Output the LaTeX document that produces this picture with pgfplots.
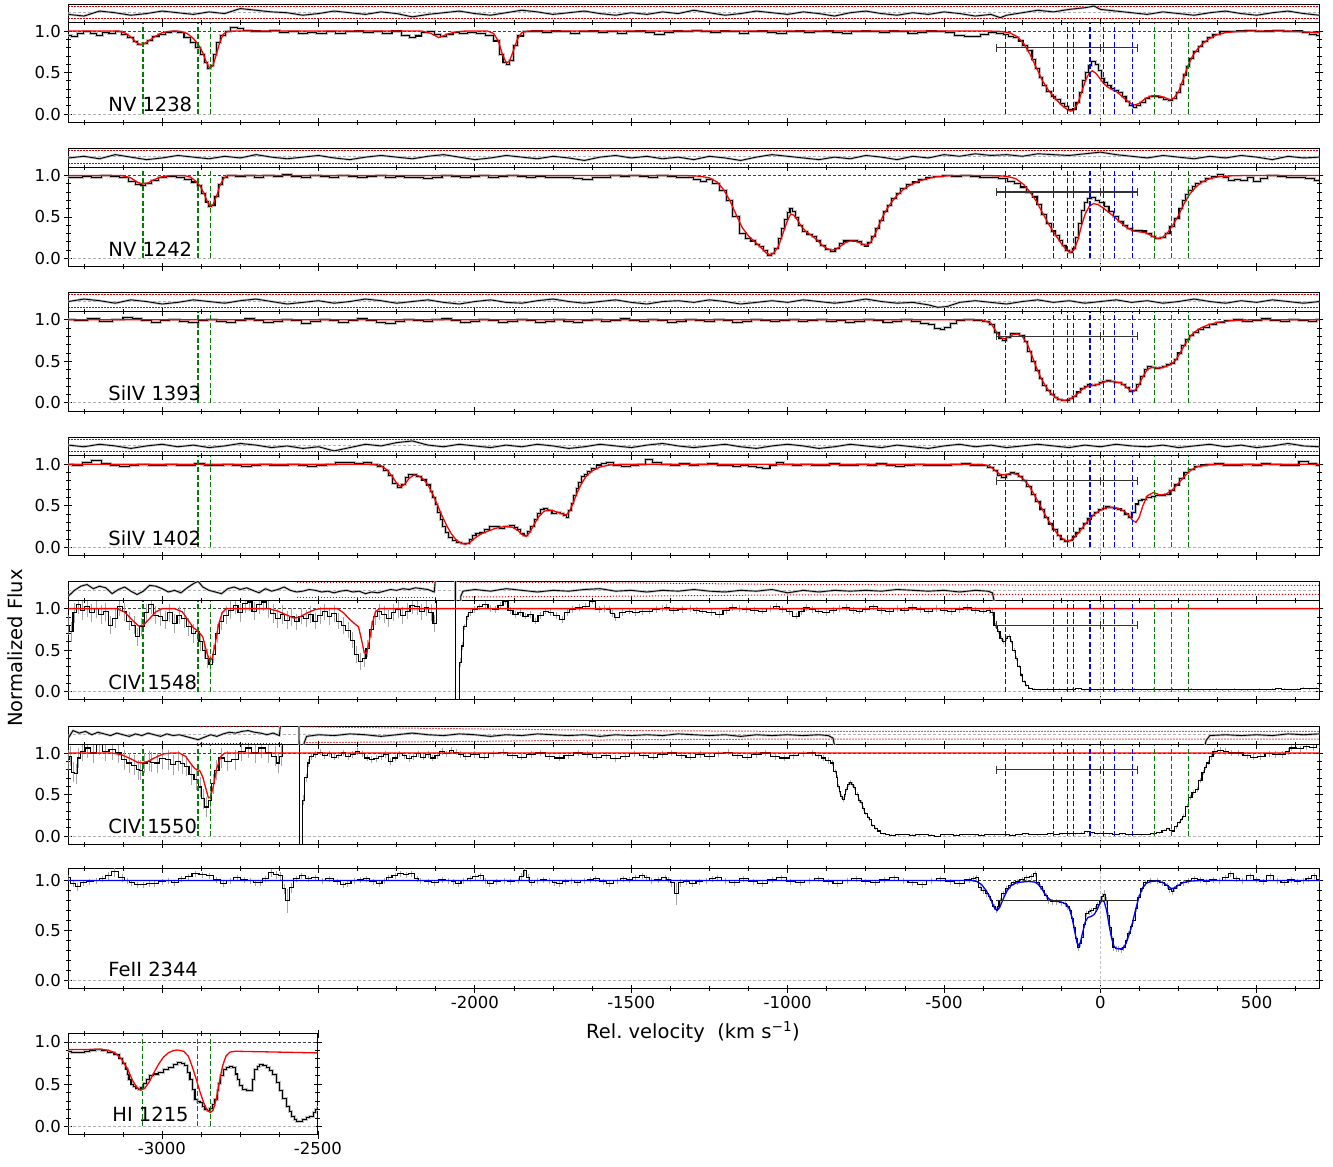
\documentclass[border=0pt]{standalone}
\usepackage{fontspec}
\setmainfont{DejaVu Sans}
\usepackage{pgfplots}
\usepackage{pgfplotstable}
\pgfplotsset{compat=1.18}

\definecolor{mplgreen}{RGB}{0,128,0}

\pgfplotsset{
  base/.style={scale only axis, width=1251pt, xmin=-3300, xmax=700,
    axis line style={line width=0.9pt}, tick style={black, line width=0.8pt},
    major tick length=8pt, minor tick length=5pt, tick align=center,
    tick label style={font=\fontsize{16.5}{19}\selectfont},
    unbounded coords=jump,
    /pgf/number format/assume math mode=true, clip=true},
  spec/.style={base, height=99.6pt, ymin=-0.1, ymax=1.1,
    xtick={-3000,-2500,...,500}, xticklabels={}, minor xtick={-3250,-3125,...,625},
    ytick={0,0.5,1}, minor ytick={0.1,0.2,0.3,0.4,0.6,0.7,0.8,0.9},
    yticklabel style={/pgf/number format/.cd, fixed, fixed zerofill, precision=1}},
  resid/.style={base, height=18.7pt, ymin=1.1, ymax=1.325,
    xtick=\empty, ytick=\empty, minor ytick={1.2,1.3}},
  halo/.style={gray!50, line width=3pt, const plot mark mid},
  dat/.style={black, line width=1.1pt, const plot mark mid},
  rhalo/.style={gray!50, line width=2.4pt},
  rdat/.style={black, line width=0.9pt},
  errs/.style={draw=none, forget plot, error bars/.cd, y dir=both, y explicit,
     error mark=none, error bar style={draw=gray!70, line width=0.9pt}},
  model/.style={red, line width=1.3pt},
  one/.style={black!75, dash pattern=on 3pt off 2pt, line width=0.8pt},
  zero/.style={black!30, dash pattern=on 3pt off 2pt, line width=0.8pt},
  vzero/.style={black!25, dash pattern=on 3pt off 2pt, line width=0.8pt},
  rmid/.style={black!30, dash pattern=on 3pt off 2pt, line width=0.8pt},
  bluev/.style={color=blue, dash pattern=on 5pt off 2.5pt, line width=1.2pt},
  greenv/.style={color=mplgreen, dash pattern=on 5pt off 2.5pt, line width=1.2pt},
  rangebar/.style={black!80, line width=1.3pt, mark=|, mark size=4pt,
     mark options={solid, line width=1.3pt}},
  bound/.style={red!85!black, dash pattern=on 1.2pt off 1.8pt, line width=1pt},
}
\newcommand{\lab}[2]{\node[anchor=base west, font=\fontsize{19.5}{23}\selectfont] at (axis cs:-3183,#1) {#2};}
% component markers (blue) and outflow markers (green), each a separate vertical segment
\newcommand{\bluelines}{\addplot[bluev] coordinates {(-304,0) (-304,1.1) (-304,nan) (-149,0) (-149,1.1) (-149,nan)
  (-106,0) (-106,1.1) (-106,nan) (-87,0) (-87,1.1) (-87,nan) (-33,0) (-33,1.1) (-33,nan)
  (10,0) (10,1.1) (10,nan) (44,0) (44,1.1) (44,nan) (103,0) (103,1.1)};}
\newcommand{\greenright}{\addplot[greenv] coordinates {(173,0) (173,1.1) (173,nan) (228,0) (228,1.1) (228,nan) (282,0) (282,1.1)};}
\newcommand{\greenleft}{\addplot[greenv] coordinates {(-3061,0) (-3061,1.1) (-3061,nan) (-2885,0) (-2885,1.1) (-2885,nan) (-2845,0) (-2845,1.1)};}
\newcommand{\greenleftb}{\addplot[greenv] coordinates {(-2885,0) (-2885,1.1) (-2885,nan) (-2845,0) (-2845,1.1)};}

% ---------------- NV 1238 ----------------
\pgfplotstableread[row sep=\\]{v f\\
-3300 0.95\\ -3280 0.93\\ -3260 0.97\\ -3240 0.99\\ -3220 0.97\\ -3200 0.95\\ -3180 0.98\\ -3160 0.97\\ -3140 0.99\\ -3120 0.96\\
-3100 0.92\\ -3085 0.87\\ -3070 0.84\\ -3055 0.85\\ -3040 0.89\\ -3020 0.93\\ -3000 0.96\\ -2980 0.98\\ -2960 0.99\\ -2940 0.98\\
-2920 0.92\\ -2900 0.86\\ -2885 0.80\\ -2870 0.72\\ -2860 0.62\\ -2850 0.55\\ -2840 0.58\\ -2830 0.72\\ -2820 0.86\\ -2805 0.95\\
-2790 0.99\\ -2770 1.04\\ -2750 1.03\\ -2730 1.01\\ -2700 1.00\\ -2670 0.99\\ -2640 1.01\\ -2610 0.98\\ -2580 0.99\\ -2550 0.97\\
-2520 0.98\\ -2490 0.97\\ -2460 0.99\\ -2430 0.97\\ -2400 0.99\\ -2370 1.00\\ -2340 0.98\\ -2310 0.99\\ -2280 0.97\\ -2250 1.00\\
-2220 0.95\\ -2200 0.92\\ -2180 0.94\\ -2160 0.98\\ -2140 0.99\\ -2120 0.96\\ -2100 0.93\\ -2080 0.96\\ -2060 0.98\\ -2040 0.97\\
-2010 0.98\\ -1980 0.97\\ -1950 0.95\\ -1930 0.88\\ -1915 0.72\\ -1905 0.62\\ -1895 0.60\\ -1885 0.65\\ -1870 0.82\\ -1855 0.94\\
-1835 0.99\\ -1800 1.00\\ -1770 0.98\\ -1740 1.00\\ -1710 0.99\\ -1680 0.97\\ -1650 0.99\\ -1620 1.00\\ -1590 0.98\\ -1560 0.99\\
-1530 0.97\\ -1500 0.99\\ -1470 1.00\\ -1440 0.98\\ -1410 0.96\\ -1380 0.98\\ -1350 1.00\\ -1320 0.99\\ -1290 1.01\\ -1260 0.99\\
-1230 0.98\\ -1200 1.00\\ -1170 0.99\\ -1140 0.97\\ -1110 0.99\\ -1080 1.00\\ -1050 0.98\\ -1020 0.97\\ -990 0.99\\ -960 1.00\\
-930 0.98\\ -900 0.99\\ -870 1.00\\ -840 0.98\\ -810 0.97\\ -780 0.99\\ -750 1.00\\ -720 0.99\\ -690 0.98\\ -660 1.00\\
-630 0.99\\ -600 0.97\\ -570 0.98\\ -540 1.00\\ -510 0.99\\ -480 0.98\\ -450 0.95\\ -420 0.93\\ -395 0.93\\ -370 0.96\\
-345 0.98\\ -320 0.97\\ -300 0.96\\ -285 0.93\\ -270 0.92\\ -255 0.88\\ -240 0.83\\ -225 0.77\\ -212 0.66\\ -200 0.55\\
-190 0.44\\ -180 0.34\\ -165 0.27\\ -150 0.21\\ -135 0.17\\ -120 0.13\\ -108 0.09\\ -96 0.05\\ -84 0.06\\ -72 0.14\\
-62 0.26\\ -52 0.40\\ -42 0.50\\ -32 0.58\\ -22 0.63\\ -12 0.60\\ -2 0.52\\ 8 0.43\\ 18 0.38\\ 28 0.34\\
40 0.31\\ 52 0.28\\ 64 0.26\\ 76 0.21\\ 88 0.15\\ 100 0.10\\ 110 0.08\\ 122 0.10\\ 136 0.14\\ 150 0.19\\
165 0.21\\ 180 0.21\\ 195 0.20\\ 210 0.18\\ 225 0.16\\ 238 0.19\\ 250 0.26\\ 260 0.36\\ 270 0.47\\ 280 0.57\\
292 0.67\\ 305 0.75\\ 320 0.81\\ 335 0.87\\ 350 0.92\\ 370 0.96\\ 395 0.99\\ 420 0.99\\ 450 1.00\\ 480 1.01\\
510 0.99\\ 540 1.00\\ 570 1.01\\ 600 0.99\\ 630 1.00\\ 660 0.98\\ 680 0.96\\ 700 0.95\\
}\dA
\pgfplotstableread[row sep=\\]{v f\\
-3300 1.0\\ -3140 1.0\\ -3120 0.98\\ -3100 0.93\\ -3085 0.87\\ -3070 0.835\\ -3055 0.85\\ -3040 0.89\\ -3020 0.94\\ -3000 0.98\\
-2980 0.995\\ -2960 1.0\\ -2940 0.995\\ -2920 0.97\\ -2900 0.91\\ -2885 0.84\\ -2870 0.74\\ -2858 0.62\\ -2848 0.55\\ -2838 0.58\\
-2828 0.70\\ -2816 0.86\\ -2805 0.96\\ -2790 0.995\\ -2770 1.0\\ -2170 1.0\\ -2140 0.97\\ -2115 0.92\\ -2090 0.96\\ -2060 0.99\\
-2030 1.0\\ -1960 1.0\\ -1940 0.97\\ -1925 0.88\\ -1912 0.72\\ -1900 0.62\\ -1890 0.63\\ -1878 0.75\\ -1864 0.9\\ -1850 0.98\\
-1830 1.0\\ -360 1.0\\ -320 0.995\\ -290 0.98\\ -265 0.93\\ -245 0.85\\ -225 0.72\\ -205 0.56\\ -185 0.40\\ -165 0.28\\
-145 0.19\\ -125 0.11\\ -105 0.05\\ -95 0.035\\ -85 0.05\\ -72 0.13\\ -60 0.26\\ -48 0.40\\ -36 0.49\\ -26 0.52\\
-14 0.49\\ -2 0.43\\ 10 0.37\\ 25 0.32\\ 40 0.29\\ 55 0.26\\ 70 0.21\\ 85 0.16\\ 100 0.12\\ 112 0.11\\
125 0.13\\ 145 0.19\\ 165 0.22\\ 185 0.22\\ 205 0.20\\ 222 0.17\\ 235 0.19\\ 250 0.27\\ 265 0.42\\ 280 0.58\\
295 0.70\\ 310 0.78\\ 325 0.84\\ 345 0.90\\ 370 0.95\\ 400 0.98\\ 440 0.995\\ 480 1.0\\ 600 1.0\\ 650 0.99\\ 700 0.98\\
}\mA
\pgfplotstableread[row sep=\\]{v r\\
-3300 1.20\\ -3250 1.18\\ -3200 1.24\\ -3150 1.22\\ -3100 1.19\\ -3050 1.21\\ -3000 1.24\\ -2950 1.22\\ -2900 1.20\\ -2850 1.23\\
-2800 1.21\\ -2750 1.27\\ -2700 1.25\\ -2650 1.23\\ -2600 1.22\\ -2550 1.19\\ -2500 1.21\\ -2450 1.24\\ -2400 1.22\\ -2350 1.20\\
-2300 1.23\\ -2250 1.21\\ -2200 1.17\\ -2150 1.20\\ -2100 1.22\\ -2050 1.24\\ -2000 1.21\\ -1950 1.19\\ -1900 1.22\\ -1850 1.25\\
-1800 1.23\\ -1750 1.20\\ -1700 1.22\\ -1650 1.24\\ -1600 1.21\\ -1550 1.19\\ -1500 1.22\\ -1450 1.20\\ -1400 1.23\\ -1350 1.21\\
-1300 1.25\\ -1250 1.22\\ -1200 1.19\\ -1150 1.21\\ -1100 1.24\\ -1050 1.22\\ -1000 1.20\\ -950 1.23\\ -900 1.21\\ -850 1.18\\
-800 1.22\\ -750 1.24\\ -700 1.21\\ -650 1.19\\ -600 1.22\\ -550 1.20\\ -500 1.23\\ -450 1.21\\ -400 1.18\\ -350 1.20\\
-320 1.16\\ -300 1.19\\ -250 1.22\\ -200 1.25\\ -150 1.23\\ -100 1.26\\ -50 1.28\\ -20 1.30\\ 0 1.26\\ 50 1.24\\
100 1.22\\ 150 1.20\\ 200 1.23\\ 250 1.21\\ 300 1.19\\ 350 1.22\\ 400 1.24\\ 450 1.21\\ 500 1.19\\ 550 1.22\\
600 1.24\\ 650 1.21\\ 700 1.19\\
}\rA

% ---------------- NV 1242 ----------------
\pgfplotstableread[row sep=\\]{v f\\
-3300 0.98\\ -3270 0.97\\ -3240 0.99\\ -3210 0.98\\ -3180 1.00\\ -3150 0.99\\ -3120 0.97\\ -3095 0.93\\ -3075 0.89\\ -3060 0.88\\
-3045 0.90\\ -3025 0.94\\ -3000 0.97\\ -2970 0.99\\ -2940 0.98\\ -2915 0.95\\ -2895 0.92\\ -2880 0.88\\ -2866 0.78\\ -2855 0.68\\
-2846 0.62\\ -2836 0.64\\ -2826 0.75\\ -2814 0.89\\ -2800 0.97\\ -2780 1.00\\ -2750 0.99\\ -2720 1.00\\ -2690 0.98\\ -2660 1.00\\
-2630 0.99\\ -2600 1.01\\ -2570 0.99\\ -2540 0.97\\ -2510 1.00\\ -2480 0.99\\ -2450 0.98\\ -2420 1.00\\ -2390 0.99\\ -2360 0.97\\
-2330 0.99\\ -2300 1.00\\ -2270 0.98\\ -2240 0.99\\ -2210 0.97\\ -2180 0.98\\ -2150 0.96\\ -2120 0.98\\ -2090 1.00\\ -2060 0.99\\
-2030 0.98\\ -2000 0.99\\ -1970 1.00\\ -1940 0.98\\ -1910 0.99\\ -1880 1.00\\ -1850 0.99\\ -1820 0.98\\ -1790 0.99\\ -1760 0.98\\
-1730 0.97\\ -1700 0.98\\ -1670 0.96\\ -1640 0.95\\ -1610 0.97\\ -1580 0.98\\ -1550 1.00\\ -1520 0.99\\ -1490 1.00\\ -1460 0.99\\
-1430 0.98\\ -1400 1.00\\ -1370 0.99\\ -1340 0.98\\ -1314 0.97\\ -1290 0.95\\ -1270 0.93\\ -1250 0.95\\ -1230 0.90\\ -1207 0.82\\
-1186 0.70\\ -1164 0.50\\ -1143 0.30\\ -1125 0.24\\ -1111 0.21\\ -1095 0.17\\ -1084 0.14\\ -1070 0.09\\ -1058 0.04\\ -1046 0.06\\
-1036 0.12\\ -1025 0.24\\ -1015 0.36\\ -1005 0.47\\ -997 0.55\\ -988 0.60\\ -980 0.56\\ -972 0.49\\ -960 0.40\\ -946 0.32\\
-930 0.29\\ -913 0.26\\ -900 0.21\\ -887 0.16\\ -870 0.11\\ -855 0.08\\ -842 0.12\\ -828 0.18\\ -815 0.21\\ -801 0.22\\
-785 0.21\\ -769 0.20\\ -758 0.17\\ -748 0.15\\ -738 0.19\\ -727 0.26\\ -713 0.36\\ -700 0.46\\ -686 0.56\\ -673 0.64\\
-660 0.72\\ -646 0.78\\ -630 0.84\\ -610 0.89\\ -590 0.92\\ -570 0.95\\ -545 0.98\\ -520 0.99\\ -490 1.00\\ -460 0.99\\
-430 1.00\\ -400 0.99\\ -370 0.98\\ -340 0.97\\ -310 0.96\\ -285 0.93\\ -265 0.90\\ -245 0.86\\ -225 0.80\\ -210 0.74\\
-195 0.65\\ -180 0.53\\ -165 0.42\\ -150 0.33\\ -138 0.28\\ -126 0.22\\ -115 0.16\\ -105 0.10\\ -95 0.07\\ -85 0.12\\
-75 0.25\\ -65 0.42\\ -55 0.58\\ -45 0.67\\ -35 0.72\\ -22 0.73\\ -10 0.70\\ 5 0.67\\ 20 0.62\\ 35 0.56\\
50 0.50\\ 65 0.44\\ 80 0.40\\ 95 0.36\\ 110 0.34\\ 125 0.34\\ 140 0.33\\ 155 0.30\\ 170 0.26\\ 185 0.24\\
200 0.25\\ 215 0.30\\ 230 0.38\\ 246 0.48\\ 257 0.60\\ 267 0.70\\ 278 0.77\\ 288 0.82\\ 300 0.87\\ 310 0.90\\
328 0.93\\ 347 0.96\\ 365 0.99\\ 385 1.01\\ 400 0.97\\ 417 0.94\\ 440 0.95\\ 459 0.94\\ 480 0.97\\ 502 0.93\\
520 0.96\\ 550 1.00\\ 580 0.99\\ 610 0.97\\ 640 0.98\\ 670 0.96\\ 700 0.94\\
}\dB
\pgfplotstableread[row sep=\\]{v f\\
-3300 1.0\\ -3130 1.0\\ -3100 0.97\\ -3080 0.92\\ -3062 0.895\\ -3045 0.91\\ -3025 0.95\\ -3000 0.985\\ -2970 1.0\\ -2930 1.0\\
-2910 0.98\\ -2892 0.93\\ -2878 0.87\\ -2866 0.78\\ -2855 0.68\\ -2846 0.63\\ -2837 0.65\\ -2826 0.75\\ -2815 0.88\\ -2802 0.97\\
-2788 1.0\\ -1330 1.0\\ -1280 0.99\\ -1250 0.97\\ -1225 0.92\\ -1205 0.83\\ -1185 0.70\\ -1165 0.53\\ -1145 0.37\\ -1125 0.27\\
-1105 0.20\\ -1085 0.13\\ -1070 0.07\\ -1058 0.045\\ -1045 0.06\\ -1030 0.14\\ -1015 0.30\\ -1000 0.46\\ -990 0.535\\ -980 0.52\\
-968 0.46\\ -955 0.38\\ -940 0.32\\ -925 0.28\\ -905 0.22\\ -890 0.16\\ -875 0.12\\ -860 0.10\\ -845 0.11\\ -830 0.15\\
-815 0.19\\ -800 0.21\\ -785 0.21\\ -770 0.19\\ -755 0.16\\ -745 0.16\\ -735 0.19\\ -722 0.28\\ -708 0.40\\ -694 0.52\\
-680 0.61\\ -665 0.69\\ -650 0.76\\ -630 0.83\\ -610 0.88\\ -585 0.925\\ -560 0.955\\ -530 0.98\\ -490 0.995\\ -450 1.0\\
-360 1.0\\ -300 0.99\\ -270 0.96\\ -245 0.89\\ -225 0.80\\ -205 0.69\\ -185 0.55\\ -165 0.41\\ -145 0.29\\ -125 0.18\\
-110 0.11\\ -97 0.07\\ -85 0.10\\ -72 0.22\\ -60 0.40\\ -48 0.54\\ -35 0.63\\ -22 0.66\\ -8 0.65\\ 8 0.61\\
25 0.56\\ 45 0.50\\ 65 0.43\\ 85 0.37\\ 105 0.33\\ 125 0.32\\ 145 0.31\\ 165 0.27\\ 182 0.24\\ 198 0.25\\
215 0.31\\ 232 0.40\\ 250 0.52\\ 268 0.66\\ 285 0.77\\ 305 0.86\\ 325 0.92\\ 350 0.96\\ 380 0.985\\ 420 0.995\\
480 1.0\\ 700 1.0\\
}\mB
\pgfplotstableread[row sep=\\]{v r\\
-3300 1.21\\ -3250 1.23\\ -3200 1.20\\ -3150 1.25\\ -3100 1.22\\ -3050 1.19\\ -3000 1.21\\ -2950 1.24\\ -2900 1.22\\ -2850 1.20\\
-2800 1.23\\ -2750 1.21\\ -2700 1.25\\ -2650 1.22\\ -2600 1.20\\ -2550 1.22\\ -2500 1.24\\ -2450 1.21\\ -2400 1.19\\ -2350 1.22\\
-2300 1.24\\ -2250 1.22\\ -2200 1.20\\ -2150 1.23\\ -2100 1.25\\ -2050 1.22\\ -2000 1.19\\ -1950 1.21\\ -1900 1.24\\ -1850 1.22\\
-1800 1.20\\ -1750 1.23\\ -1700 1.21\\ -1650 1.18\\ -1600 1.22\\ -1550 1.24\\ -1500 1.21\\ -1450 1.23\\ -1400 1.20\\ -1350 1.22\\
-1300 1.19\\ -1250 1.23\\ -1200 1.21\\ -1150 1.18\\ -1100 1.22\\ -1050 1.25\\ -1000 1.23\\ -950 1.21\\ -900 1.19\\ -850 1.22\\
-800 1.20\\ -750 1.24\\ -700 1.22\\ -650 1.19\\ -600 1.23\\ -550 1.21\\ -500 1.25\\ -450 1.23\\ -400 1.26\\ -350 1.24\\
-300 1.25\\ -250 1.23\\ -200 1.26\\ -150 1.25\\ -100 1.24\\ -50 1.26\\ 0 1.28\\ 50 1.25\\ 100 1.23\\ 150 1.21\\
200 1.24\\ 250 1.22\\ 300 1.20\\ 350 1.23\\ 400 1.21\\ 450 1.24\\ 500 1.22\\ 550 1.19\\ 600 1.23\\ 650 1.21\\ 700 1.22\\
}\rB

% ---------------- SiIV 1393 ----------------
\pgfplotstableread[row sep=\\]{v f\\
-3300 1.00\\ -3260 0.99\\ -3220 1.01\\ -3180 0.98\\ -3140 1.00\\ -3110 1.03\\ -3080 1.01\\ -3050 0.99\\ -3020 0.97\\ -2990 0.99\\
-2960 1.00\\ -2930 0.98\\ -2900 0.97\\ -2870 0.99\\ -2840 1.00\\ -2810 0.98\\ -2780 0.97\\ -2750 0.99\\ -2720 1.01\\ -2690 0.99\\
-2660 0.97\\ -2630 0.98\\ -2600 1.00\\ -2570 0.99\\ -2540 0.96\\ -2510 0.98\\ -2480 1.00\\ -2450 0.99\\ -2420 0.97\\ -2390 0.99\\
-2360 1.01\\ -2330 0.99\\ -2300 0.97\\ -2270 0.96\\ -2240 0.98\\ -2210 1.00\\ -2180 0.99\\ -2150 0.98\\ -2120 1.00\\ -2090 1.01\\
-2060 0.99\\ -2030 0.97\\ -2000 0.98\\ -1970 1.00\\ -1940 0.99\\ -1910 0.97\\ -1880 0.98\\ -1850 1.00\\ -1820 0.99\\ -1790 0.97\\
-1760 0.98\\ -1730 1.00\\ -1700 0.98\\ -1670 0.97\\ -1640 0.99\\ -1610 1.00\\ -1580 0.98\\ -1550 0.99\\ -1520 1.01\\ -1490 0.99\\
-1460 0.98\\ -1430 1.00\\ -1400 0.99\\ -1370 0.97\\ -1340 0.98\\ -1310 1.00\\ -1280 0.99\\ -1250 0.98\\ -1220 1.00\\ -1190 0.99\\
-1160 0.97\\ -1130 0.98\\ -1100 1.00\\ -1070 0.99\\ -1040 0.98\\ -1010 0.99\\ -980 1.00\\ -950 0.98\\ -920 0.99\\ -890 1.00\\
-860 0.98\\ -830 0.99\\ -800 0.97\\ -770 0.98\\ -740 1.00\\ -710 0.99\\ -680 0.97\\ -650 0.98\\ -620 1.00\\ -590 0.98\\
-560 0.96\\ -540 0.94\\ -520 0.90\\ -505 0.88\\ -490 0.91\\ -470 0.96\\ -450 0.99\\ -420 1.00\\ -390 0.99\\ -365 0.98\\
-345 0.94\\ -330 0.85\\ -318 0.78\\ -305 0.75\\ -293 0.79\\ -280 0.83\\ -265 0.84\\ -250 0.81\\ -238 0.74\\ -226 0.62\\
-214 0.50\\ -202 0.39\\ -190 0.29\\ -178 0.21\\ -166 0.15\\ -154 0.10\\ -142 0.06\\ -130 0.04\\ -118 0.03\\ -106 0.03\\
-94 0.05\\ -82 0.08\\ -70 0.13\\ -58 0.17\\ -46 0.20\\ -34 0.22\\ -22 0.21\\ -10 0.22\\ 2 0.24\\ 14 0.26\\
26 0.27\\ 38 0.26\\ 50 0.24\\ 62 0.25\\ 74 0.22\\ 86 0.18\\ 98 0.14\\ 110 0.15\\ 122 0.22\\ 134 0.32\\
146 0.40\\ 158 0.44\\ 170 0.43\\ 182 0.41\\ 194 0.42\\ 206 0.44\\ 218 0.46\\ 230 0.47\\ 242 0.52\\ 254 0.60\\
266 0.69\\ 278 0.76\\ 290 0.81\\ 305 0.85\\ 320 0.88\\ 340 0.91\\ 360 0.94\\ 385 0.97\\ 410 0.99\\ 440 1.00\\
470 0.98\\ 500 0.99\\ 530 1.01\\ 560 0.99\\ 590 0.98\\ 620 1.00\\ 650 0.99\\ 680 0.98\\ 700 1.00\\
}\dC
\pgfplotstableread[row sep=\\]{v f\\
-3300 1.0\\ -380 1.0\\ -350 0.96\\ -335 0.87\\ -320 0.79\\ -308 0.77\\ -295 0.79\\ -280 0.82\\ -265 0.83\\ -250 0.80\\
-235 0.72\\ -220 0.58\\ -205 0.43\\ -190 0.30\\ -175 0.20\\ -160 0.12\\ -145 0.07\\ -130 0.04\\ -115 0.03\\ -100 0.04\\
-85 0.07\\ -70 0.12\\ -55 0.17\\ -40 0.20\\ -25 0.21\\ -10 0.22\\ 5 0.24\\ 20 0.26\\ 35 0.26\\ 50 0.25\\
65 0.24\\ 80 0.20\\ 95 0.15\\ 108 0.14\\ 120 0.19\\ 135 0.31\\ 150 0.40\\ 165 0.43\\ 180 0.42\\ 195 0.42\\
210 0.44\\ 225 0.46\\ 240 0.51\\ 255 0.60\\ 270 0.70\\ 285 0.79\\ 300 0.85\\ 320 0.90\\ 345 0.94\\ 375 0.97\\
420 0.99\\ 480 1.0\\ 700 1.0\\
}\mC
\pgfplotstableread[row sep=\\]{v r\\
-3300 1.22\\ -3250 1.25\\ -3200 1.23\\ -3150 1.20\\ -3100 1.24\\ -3050 1.22\\ -3000 1.19\\ -2950 1.21\\ -2900 1.24\\ -2850 1.22\\
-2800 1.20\\ -2750 1.23\\ -2700 1.25\\ -2650 1.22\\ -2600 1.19\\ -2550 1.21\\ -2500 1.23\\ -2450 1.20\\ -2400 1.22\\ -2350 1.25\\
-2300 1.23\\ -2250 1.20\\ -2200 1.22\\ -2150 1.24\\ -2100 1.21\\ -2050 1.19\\ -2000 1.22\\ -1950 1.24\\ -1900 1.21\\ -1850 1.20\\
-1800 1.23\\ -1750 1.25\\ -1700 1.22\\ -1650 1.20\\ -1600 1.22\\ -1550 1.24\\ -1500 1.21\\ -1450 1.19\\ -1400 1.22\\ -1350 1.23\\
-1300 1.21\\ -1250 1.24\\ -1200 1.22\\ -1150 1.19\\ -1100 1.21\\ -1050 1.23\\ -1000 1.21\\ -950 1.24\\ -900 1.22\\ -850 1.20\\
-800 1.22\\ -750 1.25\\ -700 1.22\\ -650 1.20\\ -600 1.21\\ -550 1.18\\ -520 1.15\\ -490 1.16\\ -450 1.21\\ -400 1.23\\
-350 1.21\\ -300 1.19\\ -250 1.22\\ -200 1.24\\ -150 1.21\\ -100 1.23\\ -50 1.20\\ 0 1.22\\ 50 1.24\\ 100 1.21\\
150 1.23\\ 200 1.20\\ 250 1.22\\ 300 1.25\\ 350 1.22\\ 400 1.20\\ 450 1.23\\ 500 1.21\\ 550 1.24\\ 600 1.22\\
650 1.20\\ 700 1.22\\
}\rC

% ---------------- SiIV 1402 ----------------
\pgfplotstableread[row sep=\\]{v f\\
-3300 1.00\\ -3270 0.98\\ -3240 1.02\\ -3210 1.04\\ -3180 1.01\\ -3150 0.99\\ -3120 0.97\\ -3090 0.99\\ -3060 1.00\\ -3030 0.98\\
-3000 0.99\\ -2970 1.00\\ -2940 0.98\\ -2910 0.99\\ -2880 1.01\\ -2850 0.99\\ -2820 0.98\\ -2790 1.00\\ -2760 0.99\\ -2730 0.97\\
-2700 0.99\\ -2670 1.00\\ -2640 0.98\\ -2610 0.99\\ -2580 1.00\\ -2550 0.99\\ -2520 0.97\\ -2490 0.99\\ -2460 1.00\\ -2430 1.02\\
-2400 1.02\\ -2370 1.01\\ -2340 1.02\\ -2320 1.00\\ -2300 0.97\\ -2285 0.92\\ -2270 0.86\\ -2255 0.77\\ -2240 0.72\\ -2228 0.76\\
-2217 0.84\\ -2205 0.88\\ -2192 0.87\\ -2179 0.85\\ -2163 0.81\\ -2147 0.75\\ -2139 0.67\\ -2131 0.60\\ -2123 0.51\\ -2115 0.42\\
-2107 0.33\\ -2099 0.25\\ -2088 0.18\\ -2078 0.12\\ -2065 0.08\\ -2051 0.06\\ -2037 0.04\\ -2024 0.04\\ -2013 0.09\\ -2003 0.14\\
-1990 0.16\\ -1977 0.18\\ -1960 0.21\\ -1944 0.25\\ -1928 0.25\\ -1912 0.23\\ -1896 0.25\\ -1880 0.26\\ -1869 0.24\\ -1859 0.21\\
-1848 0.17\\ -1838 0.14\\ -1827 0.19\\ -1816 0.25\\ -1805 0.33\\ -1795 0.41\\ -1784 0.45\\ -1774 0.47\\ -1760 0.44\\ -1747 0.41\\
-1733 0.42\\ -1720 0.41\\ -1712 0.38\\ -1704 0.36\\ -1696 0.44\\ -1688 0.53\\ -1680 0.62\\ -1672 0.71\\ -1664 0.78\\ -1656 0.85\\
-1645 0.88\\ -1635 0.91\\ -1620 0.95\\ -1603 0.99\\ -1587 1.01\\ -1571 1.02\\ -1545 0.99\\ -1517 0.97\\ -1490 0.99\\ -1464 1.00\\
-1442 1.06\\ -1420 1.02\\ -1389 1.00\\ -1360 0.99\\ -1330 1.01\\ -1300 0.99\\ -1270 1.00\\ -1240 1.01\\ -1210 0.99\\ -1185 0.98\\
-1164 0.97\\ -1140 0.99\\ -1110 0.97\\ -1090 0.96\\ -1068 0.95\\ -1045 0.99\\ -1026 1.02\\ -1000 1.00\\ -970 0.99\\ -940 1.00\\
-910 0.98\\ -880 0.99\\ -850 1.01\\ -820 0.99\\ -790 0.98\\ -760 1.00\\ -730 0.99\\ -700 1.01\\ -670 0.99\\ -640 0.97\\
-610 0.99\\ -580 1.00\\ -550 0.99\\ -520 0.98\\ -490 0.99\\ -460 1.00\\ -430 1.01\\ -400 0.99\\ -370 0.98\\ -350 0.96\\
-335 0.92\\ -322 0.86\\ -308 0.84\\ -295 0.88\\ -282 0.90\\ -268 0.89\\ -255 0.85\\ -242 0.80\\ -228 0.73\\ -214 0.64\\
-200 0.55\\ -186 0.45\\ -172 0.36\\ -158 0.28\\ -145 0.21\\ -132 0.14\\ -120 0.09\\ -108 0.07\\ -96 0.08\\ -84 0.13\\
-72 0.18\\ -60 0.23\\ -48 0.29\\ -36 0.34\\ -24 0.38\\ -12 0.42\\ 0 0.45\\ 12 0.47\\ 24 0.49\\ 36 0.48\\
48 0.47\\ 60 0.46\\ 72 0.44\\ 84 0.40\\ 96 0.36\\ 106 0.42\\ 116 0.52\\ 126 0.56\\ 140 0.58\\ 155 0.60\\
170 0.61\\ 185 0.62\\ 200 0.62\\ 215 0.64\\ 230 0.68\\ 245 0.75\\ 260 0.83\\ 275 0.90\\ 290 0.94\\ 310 0.97\\
330 0.99\\ 350 1.00\\ 380 1.01\\ 410 0.99\\ 440 0.98\\ 470 1.00\\ 500 0.99\\ 530 1.01\\ 560 1.00\\ 590 0.98\\
620 0.99\\ 650 1.03\\ 680 1.01\\ 700 0.98\\
}\dD
\pgfplotstableread[row sep=\\]{v f\\
-3300 1.0\\ -2330 1.0\\ -2300 0.98\\ -2280 0.93\\ -2262 0.84\\ -2248 0.76\\ -2236 0.73\\ -2224 0.76\\ -2210 0.83\\ -2195 0.87\\
-2180 0.86\\ -2165 0.82\\ -2150 0.75\\ -2135 0.64\\ -2120 0.51\\ -2105 0.38\\ -2090 0.26\\ -2075 0.16\\ -2060 0.09\\ -2045 0.05\\
-2030 0.035\\ -2015 0.06\\ -2000 0.11\\ -1980 0.16\\ -1960 0.19\\ -1940 0.22\\ -1920 0.24\\ -1900 0.25\\ -1880 0.24\\ -1862 0.20\\
-1848 0.15\\ -1836 0.13\\ -1824 0.18\\ -1810 0.28\\ -1795 0.37\\ -1780 0.43\\ -1765 0.45\\ -1750 0.44\\ -1735 0.42\\ -1720 0.40\\
-1708 0.39\\ -1698 0.43\\ -1686 0.53\\ -1674 0.65\\ -1660 0.76\\ -1645 0.85\\ -1625 0.92\\ -1600 0.965\\ -1570 0.99\\ -1530 1.0\\
-380 1.0\\ -355 0.98\\ -338 0.93\\ -322 0.88\\ -306 0.87\\ -292 0.885\\ -278 0.89\\ -262 0.87\\ -246 0.82\\ -230 0.75\\
-214 0.65\\ -198 0.54\\ -182 0.43\\ -166 0.32\\ -150 0.23\\ -135 0.15\\ -120 0.10\\ -108 0.075\\ -96 0.08\\ -82 0.12\\
-66 0.19\\ -50 0.27\\ -34 0.34\\ -18 0.40\\ -2 0.44\\ 14 0.47\\ 30 0.48\\ 46 0.48\\ 62 0.46\\ 78 0.43\\
92 0.38\\ 104 0.32\\ 114 0.30\\ 124 0.36\\ 136 0.50\\ 150 0.62\\ 170 0.66\\ 190 0.63\\ 210 0.64\\ 230 0.69\\
250 0.77\\ 270 0.86\\ 290 0.93\\ 310 0.97\\ 340 0.99\\ 380 1.0\\ 700 1.0\\
}\mD
\pgfplotstableread[row sep=\\]{v r\\
-3300 1.23\\ -3250 1.21\\ -3200 1.24\\ -3150 1.22\\ -3100 1.19\\ -3050 1.22\\ -3000 1.24\\ -2950 1.21\\ -2900 1.23\\ -2850 1.20\\
-2800 1.22\\ -2750 1.25\\ -2700 1.23\\ -2650 1.20\\ -2600 1.22\\ -2550 1.19\\ -2500 1.21\\ -2450 1.16\\ -2400 1.20\\ -2350 1.24\\
-2300 1.22\\ -2250 1.26\\ -2200 1.28\\ -2150 1.23\\ -2100 1.21\\ -2050 1.24\\ -2000 1.22\\ -1950 1.20\\ -1900 1.23\\ -1850 1.21\\
-1800 1.24\\ -1750 1.22\\ -1700 1.19\\ -1650 1.21\\ -1600 1.24\\ -1550 1.22\\ -1500 1.20\\ -1450 1.23\\ -1400 1.25\\ -1350 1.22\\
-1300 1.20\\ -1250 1.22\\ -1200 1.24\\ -1150 1.21\\ -1100 1.19\\ -1050 1.22\\ -1000 1.24\\ -950 1.22\\ -900 1.19\\ -850 1.21\\
-800 1.24\\ -750 1.22\\ -700 1.20\\ -650 1.23\\ -600 1.21\\ -550 1.19\\ -500 1.22\\ -450 1.24\\ -400 1.21\\ -350 1.23\\
-300 1.20\\ -250 1.22\\ -200 1.24\\ -150 1.22\\ -100 1.20\\ -50 1.23\\ 0 1.21\\ 50 1.24\\ 100 1.22\\ 150 1.21\\
200 1.23\\ 250 1.20\\ 300 1.22\\ 350 1.24\\ 400 1.21\\ 450 1.23\\ 500 1.20\\ 550 1.22\\ 600 1.25\\ 650 1.22\\ 700 1.21\\
}\rD

% ---------------- CIV 1548 ----------------
\pgfplotstableread[row sep=\\]{v f e\\
-3300 0.80 0.12\\ -3290 0.72 0.12\\ -3280 0.95 0.12\\ -3268 1.05 0.12\\ -3255 0.98 0.12\\ -3240 1.02 0.12\\ -3225 0.95 0.11\\ -3210 1.00 0.11\\
-3195 0.93 0.11\\ -3180 0.96 0.11\\ -3165 0.80 0.11\\ -3150 0.88 0.11\\ -3135 1.02 0.11\\ -3120 0.96 0.11\\ -3105 0.85 0.11\\ -3090 0.80 0.11\\
-3078 0.66 0.11\\ -3065 0.78 0.11\\ -3050 0.95 0.11\\ -3035 1.05 0.11\\ -3020 0.92 0.11\\ -3005 0.90 0.11\\ -2990 0.86 0.11\\ -2975 0.95 0.11\\
-2960 0.82 0.11\\ -2945 0.92 0.11\\ -2930 0.88 0.11\\ -2915 0.78 0.11\\ -2900 0.70 0.11\\ -2888 0.72 0.11\\ -2876 0.60 0.11\\ -2865 0.50 0.11\\
-2855 0.40 0.11\\ -2845 0.33 0.11\\ -2835 0.45 0.11\\ -2822 0.70 0.11\\ -2810 0.85 0.11\\ -2795 0.92 0.11\\ -2780 0.98 0.11\\ -2765 1.04 0.11\\
-2750 0.95 0.11\\ -2735 1.06 0.11\\ -2720 1.08 0.11\\ -2705 0.97 0.11\\ -2690 1.05 0.11\\ -2675 1.08 0.11\\ -2660 1.00 0.11\\ -2645 0.94 0.11\\
-2630 0.88 0.11\\ -2615 0.93 0.11\\ -2600 0.86 0.11\\ -2585 0.90 0.11\\ -2570 0.84 0.10\\ -2555 0.91 0.10\\ -2540 0.88 0.10\\ -2525 0.93 0.10\\
-2510 0.85 0.10\\ -2495 0.92 0.10\\ -2480 0.96 0.10\\ -2465 0.90 0.10\\ -2450 0.94 0.10\\ -2435 0.85 0.10\\ -2420 0.80 0.10\\ -2405 0.74 0.10\\
-2390 0.62 0.10\\ -2378 0.45 0.10\\ -2366 0.36 0.10\\ -2354 0.40 0.10\\ -2342 0.52 0.10\\ -2330 0.75 0.10\\ -2318 0.90 0.10\\ -2305 0.96 0.10\\
-2290 0.93 0.10\\ -2275 0.88 0.10\\ -2260 0.95 0.10\\ -2245 0.99 0.10\\ -2230 0.92 0.10\\ -2215 0.97 0.10\\ -2200 1.04 0.10\\ -2185 1.02 0.10\\
-2170 0.96 0.10\\ -2155 1.01 0.10\\ -2140 0.95 0.10\\ -2128 0.82 0.10\\ -2118 1.60 0\\ -2064 1.60 0\\ -2062 -0.60 0\\ -2050 -0.60 0\\
-2047 0.35 0.05\\ -2040 0.55 0.05\\ -2032 0.78 0.04\\ -2024 0.90 0.04\\ -2015 0.95 0.04\\ -2000 0.99 0.04\\ -1985 1.02 0.04\\ -1966 1.05 0.04\\
-1950 1.00 0.04\\ -1934 0.99 0.04\\ -1918 1.04 0.04\\ -1902 1.09 0.04\\ -1886 0.98 0.04\\ -1870 0.93 0.04\\ -1854 0.95 0.04\\ -1838 0.91 0.04\\
-1822 0.93 0.04\\ -1806 0.85 0.04\\ -1790 0.92 0.04\\ -1774 0.97 0.04\\ -1757 0.95 0.04\\ -1740 0.92 0.04\\ -1721 0.87 0.04\\ -1705 0.95 0.04\\
-1688 0.99 0.04\\ -1667 1.01 0.04\\ -1645 1.03 0.04\\ -1624 1.09 0.04\\ -1603 0.99 0.04\\ -1587 1.00 0.04\\ -1571 0.99 0.04\\ -1560 0.94 0.04\\
-1549 0.89 0.04\\ -1528 0.95 0.04\\ -1507 0.97 0.04\\ -1485 0.95 0.04\\ -1464 0.96 0.04\\ -1442 0.97 0.04\\ -1420 0.99 0.04\\ -1400 1.00 0.04\\
-1389 1.01 0.04\\ -1365 0.98 0.04\\ -1336 0.99 0.04\\ -1310 1.00 0.04\\ -1290 0.98 0.04\\ -1272 0.97 0.04\\ -1245 0.95 0.04\\ -1218 0.93 0.04\\
-1195 0.98 0.04\\ -1175 1.01 0.04\\ -1155 1.00 0.04\\ -1133 0.99 0.04\\ -1105 0.98 0.04\\ -1079 0.97 0.04\\ -1055 1.00 0.04\\ -1036 1.03 0.04\\
-1015 0.99 0.04\\ -995 0.96 0.04\\ -972 0.91 0.04\\ -955 0.96 0.04\\ -940 1.01 0.04\\ -920 0.99 0.04\\ -900 0.97 0.04\\ -876 0.95 0.04\\
-855 0.98 0.04\\ -834 1.00 0.04\\ -812 1.01 0.04\\ -790 0.98 0.04\\ -770 0.97 0.04\\ -750 0.99 0.04\\ -725 1.02 0.04\\ -700 0.98 0.04\\
-675 0.96 0.04\\ -650 1.00 0.04\\ -625 0.98 0.04\\ -600 1.01 0.04\\ -575 0.99 0.04\\ -550 0.97 0.04\\ -525 1.00 0.04\\ -500 0.98 0.04\\
-475 0.96 0.04\\ -450 0.99 0.04\\ -425 1.01 0.04\\ -400 0.98 0.04\\ -375 0.97 0.04\\ -355 0.98 0.04\\ -345 0.95 0.04\\ -335 0.80 0.03\\
-325 0.72 0.03\\ -317 0.64 0.03\\ -309 0.60 0.03\\ -300 0.64 0.03\\ -292 0.66 0.03\\ -284 0.60 0.03\\ -276 0.50 0.03\\ -268 0.40 0.03\\
-260 0.30 0.02\\ -252 0.20 0.02\\ -244 0.12 0.02\\ -236 0.07 0.02\\ -226 0.04 0.01\\ -210 0.03 0.01\\ -190 0.025 0.01\\ -170 0.03 0.01\\
-150 0.02 0.01\\ -130 0.03 0.01\\ -110 0.025 0.01\\ -90 0.03 0.01\\ -70 0.035 0.01\\ -50 0.02 0.01\\ -30 0.03 0.01\\ -10 0.025 0.01\\
10 0.03 0.01\\ 30 0.02 0.01\\ 50 0.025 0.01\\ 70 0.03 0.01\\ 90 0.02 0.01\\ 110 0.03 0.01\\ 130 0.025 0.01\\ 150 0.02 0.01\\
170 0.03 0.01\\ 190 0.025 0.01\\ 210 0.02 0.01\\ 230 0.03 0.01\\ 250 0.02 0.01\\ 270 0.025 0.01\\ 290 0.03 0.01\\ 310 0.02 0.01\\
330 0.025 0.01\\ 350 0.02 0.01\\ 370 0.03 0.01\\ 390 0.025 0.01\\ 410 0.02 0.01\\ 430 0.03 0.01\\ 450 0.02 0.01\\ 470 0.025 0.01\\
490 0.02 0.01\\ 510 0.03 0.01\\ 530 0.025 0.01\\ 550 0.03 0.01\\ 570 0.035 0.01\\ 590 0.03 0.01\\ 610 0.025 0.01\\ 630 0.03 0.01\\
650 0.04 0.01\\ 670 0.035 0.01\\ 690 0.04 0.01\\ 700 0.04 0.01\\
}\dE
\pgfplotstableread[row sep=\\]{v f\\
-3300 1.0\\ -3145 1.0\\ -3120 0.96\\ -3095 0.86\\ -3075 0.79\\ -3060 0.80\\ -3040 0.88\\ -3020 0.96\\ -3000 1.0\\ -2960 1.0\\
-2935 0.96\\ -2915 0.85\\ -2900 0.77\\ -2885 0.73\\ -2870 0.66\\ -2858 0.48\\ -2848 0.37\\ -2840 0.40\\ -2830 0.58\\ -2820 0.80\\
-2808 0.95\\ -2795 1.0\\ -2660 1.0\\ -2630 0.97\\ -2600 0.92\\ -2578 0.885\\ -2560 0.90\\ -2535 0.95\\ -2510 0.99\\ -2490 1.0\\
-2440 1.0\\ -2420 0.95\\ -2400 0.87\\ -2385 0.82\\ -2372 0.78\\ -2362 0.62\\ -2354 0.47\\ -2346 0.46\\ -2338 0.60\\ -2328 0.82\\
-2318 0.96\\ -2305 1.0\\ 700 1.0\\
}\mE
\pgfplotstableread[row sep=\\]{v r\\
-3300 1.15\\ -3280 1.22\\ -3260 1.27\\ -3240 1.29\\ -3220 1.24\\ -3200 1.27\\ -3180 1.25\\ -3160 1.18\\ -3140 1.23\\ -3120 1.26\\
-3100 1.21\\ -3080 1.17\\ -3060 1.21\\ -3040 1.28\\ -3020 1.27\\ -3000 1.24\\ -2980 1.20\\ -2960 1.22\\ -2940 1.19\\ -2920 1.25\\
-2900 1.30\\ -2885 1.33\\ -2870 1.26\\ -2850 1.22\\ -2830 1.20\\ -2810 1.18\\ -2790 1.24\\ -2770 1.26\\ -2750 1.23\\ -2730 1.25\\
-2710 1.22\\ -2690 1.19\\ -2670 1.24\\ -2650 1.21\\ -2630 1.23\\ -2610 1.26\\ -2590 1.22\\ -2570 1.20\\ -2550 1.21\\ -2530 1.23\\
-2510 1.22\\ -2490 1.20\\ -2470 1.21\\ -2450 1.19\\ -2430 1.21\\ -2410 1.22\\ -2390 1.20\\ -2370 1.21\\ -2350 1.18\\ -2330 1.20\\
-2310 1.19\\ -2290 1.21\\ -2270 1.23\\ -2250 1.22\\ -2230 1.24\\ -2210 1.23\\ -2190 1.25\\ -2170 1.24\\ -2150 1.23\\ -2130 1.20\\
-2120 1.60\\ -2063 1.60\\ -2061 0.50\\ -2048 0.50\\ -2045 1.15\\ -2038 1.21\\ -2000 1.23\\ -1950 1.21\\ -1900 1.24\\ -1850 1.22\\
-1800 1.20\\ -1750 1.22\\ -1700 1.21\\ -1650 1.23\\ -1600 1.24\\ -1550 1.21\\ -1500 1.22\\ -1450 1.20\\ -1400 1.22\\ -1350 1.21\\
-1300 1.23\\ -1250 1.21\\ -1200 1.20\\ -1150 1.22\\ -1100 1.21\\ -1050 1.23\\ -1000 1.19\\ -950 1.22\\ -900 1.20\\ -850 1.22\\
-800 1.21\\ -750 1.22\\ -700 1.21\\ -650 1.23\\ -600 1.22\\ -550 1.21\\ -500 1.22\\ -450 1.20\\ -400 1.22\\ -360 1.21\\
-345 1.19\\ -335 1.00\\ 700 1.00\\
}\rE

% ---------------- CIV 1550 ----------------
\pgfplotstableread[row sep=\\]{v f e\\
-3300 0.92 0.12\\ -3292 0.96 0.12\\ -3285 0.77 0.12\\ -3275 0.75 0.12\\ -3266 0.94 0.12\\ -3255 1.02 0.12\\ -3238 1.06 0.12\\ -3220 1.00 0.12\\
-3200 1.10 0.12\\ -3180 1.02 0.12\\ -3160 1.04 0.12\\ -3141 1.00 0.12\\ -3120 0.92 0.12\\ -3105 0.88 0.12\\ -3089 0.85 0.12\\ -3075 0.80 0.12\\
-3068 0.79 0.12\\ -3055 0.88 0.12\\ -3040 0.90 0.12\\ -3034 0.89 0.12\\ -3015 0.88 0.12\\ -3000 0.93 0.12\\ -2981 0.92 0.12\\ -2965 0.86 0.12\\
-2949 0.90 0.12\\ -2935 0.87 0.12\\ -2922 0.84 0.12\\ -2906 0.74 0.12\\ -2890 0.68 0.12\\ -2879 0.59 0.12\\ -2869 0.45 0.12\\ -2858 0.35 0.12\\
-2847 0.43 0.12\\ -2837 0.63 0.12\\ -2826 0.79 0.12\\ -2810 0.94 0.12\\ -2790 0.90 0.12\\ -2767 0.92 0.12\\ -2745 1.02 0.12\\ -2724 1.06 0.12\\
-2703 1.00 0.12\\ -2681 1.06 0.12\\ -2660 1.00 0.12\\ -2639 0.96 0.12\\ -2628 0.88 0.12\\ -2620 0.96 0.12\\ -2612 1.60 0\\ -2563 1.60 0\\
-2561 -0.60 0\\ -2552 -0.60 0\\ -2548 0.43 0.06\\ -2540 0.70 0.05\\ -2533 0.88 0.05\\ -2524 0.96 0.04\\ -2510 0.98 0.04\\ -2495 1.01 0.04\\
-2480 0.97 0.04\\ -2465 0.99 0.04\\ -2450 0.95 0.04\\ -2435 0.97 0.04\\ -2420 1.00 0.04\\ -2405 0.96 0.04\\ -2390 0.98 0.04\\ -2375 1.02 0.04\\
-2360 0.99 0.04\\ -2345 0.94 0.04\\ -2330 0.92 0.04\\ -2315 0.93 0.04\\ -2300 0.96 0.04\\ -2285 0.98 0.04\\ -2270 0.90 0.04\\ -2255 0.94 0.04\\
-2240 0.99 0.04\\ -2225 0.97 0.04\\ -2210 0.93 0.04\\ -2195 0.96 0.04\\ -2180 0.99 0.04\\ -2165 0.95 0.04\\ -2150 0.98 0.04\\ -2135 0.94 0.04\\
-2120 0.97 0.04\\ -2105 1.02 0.04\\ -2090 0.99 0.04\\ -2075 1.03 0.04\\ -2060 1.01 0.04\\ -2045 0.98 0.04\\ -2030 0.96 0.04\\ -2000 0.98 0.04\\
-1970 0.95 0.04\\ -1940 0.99 0.04\\ -1910 1.01 0.04\\ -1880 0.97 0.04\\ -1850 0.95 0.04\\ -1820 0.98 0.04\\ -1790 1.00 0.04\\ -1760 0.96 0.04\\
-1730 0.94 0.04\\ -1700 0.97 0.04\\ -1670 1.00 0.04\\ -1640 0.98 0.04\\ -1610 0.95 0.04\\ -1580 0.97 0.04\\ -1550 0.93 0.04\\ -1520 0.96 0.04\\
-1490 0.99 0.04\\ -1460 0.97 0.04\\ -1430 0.95 0.04\\ -1400 0.98 0.04\\ -1370 1.00 0.04\\ -1340 0.97 0.04\\ -1310 0.95 0.04\\ -1280 0.98 0.04\\
-1250 0.96 0.04\\ -1220 0.99 0.04\\ -1190 1.01 0.04\\ -1160 0.97 0.04\\ -1130 0.95 0.04\\ -1100 0.98 0.04\\ -1070 1.00 0.04\\ -1040 0.96 0.04\\
-1010 0.94 0.04\\ -980 0.97 0.04\\ -950 0.99 0.04\\ -920 1.00 0.04\\ -900 0.97 0.04\\ -885 0.94 0.04\\ -870 0.91 0.04\\ -856 0.88 0.04\\
-848 0.78 0.03\\ -842 0.70 0.03\\ -837 0.60 0.03\\ -833 0.54 0.03\\ -827 0.48 0.03\\ -821 0.44 0.03\\ -816 0.50 0.03\\ -811 0.56 0.03\\
-805 0.62 0.03\\ -800 0.64 0.03\\ -793 0.62 0.03\\ -786 0.58 0.03\\ -778 0.50 0.03\\ -770 0.43 0.03\\ -765 0.40 0.03\\ -757 0.33 0.03\\
-750 0.27 0.02\\ -742 0.22 0.02\\ -737 0.20 0.02\\ -728 0.13 0.02\\ -718 0.09 0.02\\ -709 0.06 0.01\\ -695 0.03 0.01\\ -680 0.02 0.01\\
-667 0.01 0.01\\ -645 0.015 0.01\\ -620 0.02 0.01\\ -600 0.01 0.01\\ -580 0.015 0.01\\ -560 0.02 0.01\\ -540 0.01 0.01\\ -520 -0.005 0.01\\
-500 0.015 0.01\\ -480 0.02 0.01\\ -460 0.01 0.01\\ -440 0.015 0.01\\ -420 0.02 0.01\\ -400 0.015 0.01\\ -380 0.01 0.01\\ -360 0.02 0.01\\
-340 0.015 0.01\\ -320 0.02 0.01\\ -300 0.015 0.01\\ -280 0.01 0.01\\ -260 0.02 0.01\\ -240 0.025 0.01\\ -220 0.02 0.01\\ -200 0.015 0.01\\
-180 0.02 0.01\\ -160 0.025 0.01\\ -140 0.02 0.01\\ -120 0.03 0.01\\ -100 0.025 0.01\\ -80 0.03 0.01\\ -60 0.035 0.01\\ -40 0.05 0.01\\
-25 0.04 0.01\\ -10 0.03 0.01\\ 10 0.025 0.01\\ 30 0.03 0.01\\ 50 0.02 0.01\\ 70 0.025 0.01\\ 90 0.015 0.01\\ 110 0.02 0.01\\
130 0.015 0.01\\ 148 0.02 0.01\\ 170 0.03 0.01\\ 189 0.04 0.01\\ 205 0.07 0.01\\ 218 0.09 0.01\\ 226 0.07 0.01\\ 232 0.06 0.01\\
243 0.11 0.02\\ 253 0.16 0.02\\ 260 0.20 0.02\\ 267 0.24 0.02\\ 278 0.36 0.02\\ 288 0.46 0.03\\ 298 0.52 0.03\\ 309 0.56 0.03\\
320 0.67 0.03\\ 330 0.76 0.03\\ 337 0.83 0.03\\ 344 0.88 0.03\\ 355 0.96 0.04\\ 365 1.02 0.04\\ 385 1.03 0.04\\ 400 1.02 0.04\\
420 1.00 0.04\\ 442 1.00 0.04\\ 470 0.97 0.04\\ 490 0.95 0.04\\ 513 0.96 0.04\\ 540 0.99 0.04\\ 560 0.98 0.04\\ 583 0.98 0.04\\
600 1.02 0.04\\ 612 1.06 0.04\\ 640 1.05 0.04\\ 660 1.08 0.04\\ 680 1.07 0.04\\ 700 1.10 0.04\\
}\dF
\pgfplotstableread[row sep=\\]{v f\\
-3300 1.0\\ -3160 1.0\\ -3130 0.98\\ -3100 0.93\\ -3080 0.89\\ -3065 0.88\\ -3045 0.90\\ -3020 0.95\\ -2995 0.99\\ -2970 1.0\\
-2945 1.0\\ -2925 0.96\\ -2910 0.88\\ -2895 0.81\\ -2880 0.79\\ -2870 0.71\\ -2860 0.57\\ -2852 0.46\\ -2845 0.47\\ -2835 0.62\\
-2825 0.82\\ -2812 0.96\\ -2800 1.0\\ 700 1.0\\
}\mF
\pgfplotstableread[row sep=\\]{v r\\
-3300 1.18\\ -3285 1.27\\ -3265 1.24\\ -3245 1.26\\ -3225 1.22\\ -3205 1.25\\ -3185 1.23\\ -3165 1.21\\ -3145 1.24\\ -3125 1.22\\
-3105 1.20\\ -3085 1.23\\ -3065 1.21\\ -3045 1.24\\ -3025 1.22\\ -3005 1.20\\ -2985 1.23\\ -2965 1.21\\ -2945 1.22\\ -2925 1.20\\
-2905 1.18\\ -2885 1.16\\ -2865 1.19\\ -2845 1.22\\ -2825 1.20\\ -2805 1.23\\ -2785 1.25\\ -2765 1.24\\ -2745 1.26\\ -2725 1.27\\
-2705 1.25\\ -2685 1.24\\ -2665 1.22\\ -2645 1.24\\ -2625 1.21\\ -2615 1.60\\ -2563 1.60\\ -2561 0.50\\ -2550 0.50\\ -2546 1.12\\
-2538 1.20\\ -2500 1.22\\ -2450 1.21\\ -2400 1.23\\ -2350 1.22\\ -2300 1.20\\ -2250 1.22\\ -2200 1.24\\ -2150 1.22\\ -2100 1.21\\
-2050 1.23\\ -2000 1.22\\ -1950 1.20\\ -1900 1.22\\ -1850 1.21\\ -1800 1.23\\ -1750 1.22\\ -1700 1.21\\ -1650 1.22\\ -1600 1.20\\
-1550 1.22\\ -1500 1.21\\ -1450 1.22\\ -1400 1.21\\ -1350 1.23\\ -1300 1.22\\ -1250 1.21\\ -1200 1.22\\ -1150 1.20\\ -1100 1.22\\
-1050 1.21\\ -1000 1.22\\ -950 1.21\\ -900 1.22\\ -870 1.21\\ -855 1.18\\ -845 1.00\\ 330 1.00\\ 338 1.15\\ 350 1.21\\
400 1.22\\ 450 1.21\\ 500 1.22\\ 550 1.21\\ 600 1.23\\ 650 1.22\\ 700 1.23\\
}\rF

% ---------------- FeII 2344 ----------------
\pgfplotstableread[row sep=\\]{v f e\\
-3300 1.03 0.03\\ -3285 0.97 0.03\\ -3270 0.94 0.04\\ -3250 0.98 0.03\\ -3231 0.99 0.03\\ -3210 1.00 0.03\\ -3190 1.02 0.03\\ -3173 1.05 0.04\\
-3151 1.09 0.05\\ -3128 1.03 0.04\\ -3110 1.00 0.03\\ -3099 0.98 0.03\\ -3080 0.96 0.03\\ -3060 0.96 0.03\\ -3040 0.97 0.03\\ -3025 0.97 0.03\\
-3000 0.99 0.03\\ -2981 1.00 0.03\\ -2960 0.98 0.03\\ -2937 1.02 0.03\\ -2915 1.04 0.03\\ -2894 1.07 0.03\\ -2870 1.06 0.03\\ -2849 1.05 0.03\\
-2825 1.01 0.03\\ -2804 0.97 0.03\\ -2782 1.00 0.03\\ -2760 1.03 0.03\\ -2738 1.01 0.03\\ -2716 1.00 0.03\\ -2700 0.98 0.03\\ -2687 0.98 0.03\\
-2670 1.02 0.03\\ -2650 1.08 0.04\\ -2635 1.06 0.04\\ -2621 1.05 0.04\\ -2610 0.92 0.05\\ -2599 0.80 0.12\\ -2588 0.93 0.05\\ -2570 1.02 0.03\\
-2554 1.05 0.03\\ -2532 1.02 0.03\\ -2510 1.03 0.03\\ -2488 1.00 0.03\\ -2466 1.02 0.03\\ -2440 0.99 0.03\\ -2420 0.96 0.03\\ -2407 0.97 0.03\\
-2385 1.00 0.03\\ -2365 1.01 0.03\\ -2348 1.02 0.03\\ -2325 0.99 0.03\\ -2304 0.97 0.03\\ -2290 1.00 0.03\\ -2275 1.03 0.03\\ -2255 1.05 0.03\\
-2238 1.07 0.03\\ -2220 1.06 0.03\\ -2202 1.07 0.03\\ -2185 1.02 0.03\\ -2173 1.00 0.03\\ -2150 0.99 0.03\\ -2128 0.98 0.03\\ -2105 1.01 0.03\\
-2083 1.00 0.03\\ -2068 0.99 0.03\\ -2054 0.97 0.03\\ -2035 1.00 0.03\\ -2015 1.02 0.03\\ -1998 1.04 0.03\\ -1981 1.05 0.03\\ -1965 1.00 0.03\\
-1952 0.97 0.03\\ -1930 0.99 0.03\\ -1907 1.00 0.03\\ -1885 0.99 0.03\\ -1862 1.00 0.03\\ -1850 1.04 0.04\\ -1841 1.10 0.05\\ -1830 1.03 0.04\\
-1819 0.98 0.03\\ -1800 1.00 0.03\\ -1780 1.01 0.03\\ -1760 1.00 0.03\\ -1745 0.98 0.03\\ -1731 0.97 0.03\\ -1710 0.99 0.03\\ -1690 1.00 0.03\\
-1672 0.98 0.03\\ -1650 1.00 0.03\\ -1630 1.01 0.03\\ -1613 1.02 0.03\\ -1590 0.99 0.03\\ -1569 0.97 0.03\\ -1545 1.00 0.03\\ -1525 1.02 0.03\\
-1505 1.01 0.03\\ -1485 1.03 0.03\\ -1465 1.05 0.03\\ -1450 1.03 0.03\\ -1436 1.00 0.03\\ -1414 1.01 0.03\\ -1392 1.03 0.03\\ -1380 1.01 0.03\\
-1370 0.98 0.04\\ -1356 0.87 0.11\\ -1342 0.98 0.04\\ -1325 0.99 0.03\\ -1304 0.97 0.03\\ -1282 0.99 0.03\\ -1260 1.00 0.03\\ -1240 1.02 0.03\\
-1224 1.03 0.03\\ -1200 1.00 0.03\\ -1170 0.98 0.03\\ -1140 1.02 0.03\\ -1110 0.99 0.03\\ -1080 0.97 0.03\\ -1050 1.01 0.03\\ -1020 1.03 0.03\\
-990 0.99 0.03\\ -960 0.98 0.03\\ -930 1.00 0.03\\ -900 1.02 0.03\\ -870 0.99 0.03\\ -840 0.97 0.03\\ -810 1.00 0.03\\ -780 1.02 0.03\\
-750 0.99 0.03\\ -720 0.98 0.03\\ -690 1.01 0.03\\ -660 1.03 0.03\\ -630 1.00 0.03\\ -600 0.98 0.03\\ -570 0.96 0.03\\ -540 1.00 0.03\\
-510 1.02 0.03\\ -480 0.99 0.03\\ -450 0.97 0.03\\ -420 1.01 0.03\\ -405 1.02 0.03\\ -395 1.03 0.03\\ -385 0.93 0.03\\ -374 0.90 0.03\\
-363 0.87 0.03\\ -355 0.84 0.03\\ -347 0.80 0.03\\ -340 0.74 0.03\\ -333 0.71 0.03\\ -327 0.74 0.03\\ -321 0.80 0.03\\ -310 0.87 0.03\\
-299 0.92 0.03\\ -288 0.95 0.03\\ -278 0.98 0.03\\ -265 0.99 0.03\\ -250 1.01 0.03\\ -235 1.03 0.03\\ -220 1.04 0.03\\ -208 1.07 0.03\\
-198 0.98 0.03\\ -190 0.94 0.03\\ -182 0.90 0.03\\ -174 0.85 0.03\\ -166 0.80 0.03\\ -152 0.79 0.03\\ -139 0.79 0.03\\ -125 0.78 0.03\\
-112 0.77 0.03\\ -104 0.74 0.03\\ -96 0.70 0.03\\ -89 0.62 0.03\\ -83 0.53 0.03\\ -76 0.42 0.03\\ -70 0.33 0.03\\ -64 0.37 0.03\\
-59 0.43 0.03\\ -51 0.56 0.03\\ -43 0.67 0.03\\ -35 0.69 0.03\\ -27 0.70 0.03\\ -16 0.72 0.03\\ -8 0.76 0.03\\ 0 0.80 0.04\\
7 0.84 0.04\\ 13 0.86 0.05\\ 21 0.80 0.04\\ 27 0.65 0.04\\ 32 0.53 0.03\\ 38 0.42 0.03\\ 43 0.33 0.03\\ 51 0.32 0.03\\
59 0.32 0.03\\ 67 0.31 0.03\\ 75 0.33 0.03\\ 83 0.40 0.03\\ 91 0.47 0.03\\ 99 0.54 0.03\\ 107 0.60 0.03\\ 115 0.72 0.03\\
123 0.83 0.03\\ 133 0.92 0.03\\ 144 0.98 0.03\\ 160 1.00 0.03\\ 182 1.00 0.03\\ 198 0.98 0.03\\ 214 0.95 0.03\\ 222 0.91 0.03\\
230 0.89 0.03\\ 238 0.92 0.03\\ 246 0.95 0.03\\ 265 0.98 0.03\\ 283 1.00 0.03\\ 301 1.02 0.03\\ 320 1.01 0.03\\ 340 0.99 0.03\\
360 1.01 0.03\\ 380 1.00 0.03\\ 400 1.03 0.03\\ 417 1.07 0.03\\ 435 1.02 0.03\\ 455 1.00 0.03\\ 481 1.05 0.03\\ 500 1.01 0.03\\
520 0.99 0.03\\ 545 1.05 0.03\\ 565 1.00 0.03\\ 590 0.98 0.03\\ 610 1.01 0.03\\ 630 0.99 0.03\\ 650 1.00 0.03\\ 665 1.02 0.03\\
683 1.05 0.03\\ 700 1.01 0.03\\
}\dG
\pgfplotstableread[row sep=\\]{v f\\
-3300 1.0\\ -410 1.0\\ -395 0.99\\ -380 0.96\\ -365 0.90\\ -350 0.81\\ -338 0.72\\ -330 0.70\\ -322 0.73\\ -310 0.82\\
-298 0.90\\ -285 0.95\\ -270 0.975\\ -250 0.985\\ -230 0.99\\ -210 0.985\\ -198 0.96\\ -186 0.91\\ -174 0.85\\ -162 0.81\\
-150 0.795\\ -135 0.79\\ -120 0.78\\ -108 0.76\\ -98 0.71\\ -90 0.62\\ -82 0.49\\ -75 0.38\\ -70 0.35\\ -64 0.38\\
-56 0.49\\ -48 0.59\\ -40 0.63\\ -30 0.64\\ -20 0.66\\ -10 0.71\\ -2 0.77\\ 5 0.80\\ 12 0.79\\ 20 0.70\\
28 0.55\\ 36 0.42\\ 44 0.34\\ 52 0.32\\ 62 0.315\\ 72 0.32\\ 82 0.37\\ 92 0.46\\ 102 0.57\\ 112 0.70\\
122 0.82\\ 134 0.92\\ 146 0.97\\ 160 0.99\\ 180 0.995\\ 200 0.98\\ 214 0.95\\ 226 0.92\\ 236 0.925\\ 248 0.95\\
265 0.98\\ 290 0.995\\ 320 1.0\\ 700 1.0\\
}\mG

% ---------------- HI 1215 ----------------
\pgfplotstableread[row sep=\\]{v f\\
-3300 0.89\\ -3280 0.88\\ -3258 0.88\\ -3240 0.89\\ -3222 0.90\\ -3205 0.91\\ -3185 0.90\\ -3162 0.88\\ -3145 0.85\\ -3130 0.80\\
-3120 0.74\\ -3114 0.68\\ -3108 0.61\\ -3103 0.55\\ -3095 0.50\\ -3087 0.47\\ -3079 0.45\\ -3071 0.44\\ -3063 0.46\\ -3056 0.51\\
-3045 0.56\\ -3034 0.60\\ -3018 0.62\\ -3002 0.64\\ -2986 0.67\\ -2970 0.70\\ -2956 0.73\\ -2943 0.76\\ -2932 0.74\\ -2922 0.72\\
-2914 0.64\\ -2906 0.56\\ -2898 0.44\\ -2890 0.32\\ -2882 0.29\\ -2874 0.28\\ -2866 0.24\\ -2858 0.20\\ -2850 0.19\\ -2842 0.21\\
-2834 0.26\\ -2826 0.32\\ -2820 0.42\\ -2815 0.51\\ -2807 0.60\\ -2799 0.67\\ -2788 0.70\\ -2778 0.71\\ -2767 0.70\\ -2760 0.62\\
-2756 0.56\\ -2746 0.48\\ -2735 0.44\\ -2725 0.43\\ -2714 0.42\\ -2706 0.55\\ -2698 0.67\\ -2690 0.71\\ -2682 0.73\\ -2670 0.72\\
-2660 0.70\\ -2650 0.66\\ -2639 0.61\\ -2628 0.52\\ -2618 0.43\\ -2607 0.33\\ -2596 0.24\\ -2588 0.18\\ -2580 0.12\\ -2572 0.08\\
-2564 0.06\\ -2555 0.06\\ -2543 0.08\\ -2532 0.10\\ -2521 0.12\\ -2510 0.16\\ -2505 0.20\\ -2500 0.22\\
}\dH
\pgfplotstableread[row sep=\\]{v f\\
-3300 0.91\\ -3250 0.91\\ -3200 0.915\\ -3170 0.90\\ -3150 0.87\\ -3130 0.80\\ -3110 0.68\\ -3095 0.55\\ -3080 0.46\\ -3068 0.43\\
-3055 0.45\\ -3040 0.53\\ -3025 0.64\\ -3010 0.74\\ -2995 0.82\\ -2980 0.87\\ -2965 0.895\\ -2950 0.905\\ -2930 0.89\\ -2915 0.83\\
-2902 0.70\\ -2890 0.56\\ -2878 0.41\\ -2866 0.28\\ -2855 0.19\\ -2845 0.165\\ -2836 0.19\\ -2826 0.32\\ -2816 0.52\\ -2806 0.71\\
-2795 0.83\\ -2782 0.88\\ -2765 0.89\\ -2700 0.885\\ -2600 0.878\\ -2500 0.87\\
}\mH

\begin{document}
\begin{tikzpicture}
\useasboundingbox (0,0) rectangle (1333pt,-1167pt);

% ======== NV 1238 ========
\begin{axis}[spec, at={(68.3pt,-22.7pt)}, anchor=north west]
  \addplot[zero] coordinates {(-3300,0) (700,0)};
  \addplot[one] coordinates {(-3300,1) (700,1)};
  \addplot[vzero] coordinates {(0,-0.1) (0,1.1)};
  \addplot[halo] table[x=v,y=f] {\dA};
  \addplot[dat] table[x=v,y=f] {\dA};
  \addplot[model] table[x=v,y=f] {\mA};
  \bluelines \greenleft \greenright
  \addplot[rangebar] coordinates {(-333,0.8) (0,0.8) (118,0.8)};
  \lab{0.025}{NV 1238}
\end{axis}
\begin{axis}[resid, at={(68.3pt,-4pt)}, anchor=north west]
  \addplot[rmid] coordinates {(-3300,1.224) (700,1.224)};
  \addplot[bound] coordinates {(-3300,1.30) (700,1.30)};
  \addplot[bound] coordinates {(-3300,1.148) (700,1.148)};
  \addplot[rhalo] table[x=v,y=r] {\rA};
  \addplot[rdat] table[x=v,y=r] {\rA};
\end{axis}

% ======== NV 1242 ========
\begin{axis}[spec, at={(68.3pt,-167.1pt)}, anchor=north west]
  \addplot[zero] coordinates {(-3300,0) (700,0)};
  \addplot[one] coordinates {(-3300,1) (700,1)};
  \addplot[vzero] coordinates {(0,-0.1) (0,1.1)};
  \addplot[halo] table[x=v,y=f] {\dB};
  \addplot[dat] table[x=v,y=f] {\dB};
  \addplot[model] table[x=v,y=f] {\mB};
  \bluelines \greenleft \greenright
  \addplot[rangebar] coordinates {(-333,0.8) (0,0.8) (118,0.8)};
  \lab{0.025}{NV 1242}
\end{axis}
\begin{axis}[resid, at={(68.3pt,-148.4pt)}, anchor=north west]
  \addplot[rmid] coordinates {(-3300,1.224) (700,1.224)};
  \addplot[bound] coordinates {(-3300,1.30) (700,1.30)};
  \addplot[bound] coordinates {(-3300,1.148) (700,1.148)};
  \addplot[rhalo] table[x=v,y=r] {\rB};
  \addplot[rdat] table[x=v,y=r] {\rB};
\end{axis}

% ======== SiIV 1393 ========
\begin{axis}[spec, at={(68.3pt,-311.5pt)}, anchor=north west]
  \addplot[zero] coordinates {(-3300,0) (700,0)};
  \addplot[one] coordinates {(-3300,1) (700,1)};
  \addplot[vzero] coordinates {(0,-0.1) (0,1.1)};
  \addplot[halo] table[x=v,y=f] {\dC};
  \addplot[dat] table[x=v,y=f] {\dC};
  \addplot[model] table[x=v,y=f] {\mC};
  \bluelines \greenleftb \greenright
  \addplot[rangebar] coordinates {(-333,0.8) (0,0.8) (118,0.8)};
  \lab{0.025}{SiIV 1393}
\end{axis}
\begin{axis}[resid, at={(68.3pt,-292.8pt)}, anchor=north west]
  \addplot[rmid] coordinates {(-3300,1.224) (700,1.224)};
  \addplot[bound] coordinates {(-3300,1.30) (700,1.30)};
  \addplot[bound] coordinates {(-3300,1.148) (700,1.148)};
  \addplot[rhalo] table[x=v,y=r] {\rC};
  \addplot[rdat] table[x=v,y=r] {\rC};
\end{axis}

% ======== SiIV 1402 ========
\begin{axis}[spec, at={(68.3pt,-455.9pt)}, anchor=north west]
  \addplot[zero] coordinates {(-3300,0) (700,0)};
  \addplot[one] coordinates {(-3300,1) (700,1)};
  \addplot[vzero] coordinates {(0,-0.1) (0,1.1)};
  \addplot[halo] table[x=v,y=f] {\dD};
  \addplot[dat] table[x=v,y=f] {\dD};
  \addplot[model] table[x=v,y=f] {\mD};
  \bluelines \greenleftb \greenright
  \addplot[rangebar] coordinates {(-333,0.8) (0,0.8) (118,0.8)};
  \lab{0.025}{SiIV 1402}
\end{axis}
\begin{axis}[resid, at={(68.3pt,-437.2pt)}, anchor=north west]
  \addplot[rmid] coordinates {(-3300,1.224) (700,1.224)};
  \addplot[bound] coordinates {(-3300,1.30) (700,1.30)};
  \addplot[bound] coordinates {(-3300,1.148) (700,1.148)};
  \addplot[rhalo] table[x=v,y=r] {\rD};
  \addplot[rdat] table[x=v,y=r] {\rD};
\end{axis}

% ======== CIV 1548 ========
\begin{axis}[spec, at={(68.3pt,-600.3pt)}, anchor=north west]
  \addplot[zero] coordinates {(-3300,0) (700,0)};
  \addplot[one] coordinates {(-3300,1) (700,1)};
  \addplot[vzero] coordinates {(0,-0.1) (0,1.1)};
  \addplot[errs] table[x=v,y=f,y error=e] {\dE};
  \addplot[dat] table[x=v,y=f] {\dE};
  \addplot[model] table[x=v,y=f] {\mE};
  \bluelines \greenleft \greenright
  \addplot[rangebar] coordinates {(-333,0.8) (0,0.8) (118,0.8)};
  \lab{0.025}{CIV 1548}
\end{axis}
\begin{axis}[resid, at={(68.3pt,-581.6pt)}, anchor=north west]
  \addplot[rmid] coordinates {(-3300,1.224) (700,1.224)};
  \addplot[bound] coordinates {(-2570,1.32) (-2122,1.32)};
  \addplot[bound] coordinates {(-2570,1.13) (-2122,1.13)};
  \addplot[bound] coordinates {(-2048,1.32) (-1500,1.31) (-1000,1.29) (-500,1.285) (700,1.28)};
  \addplot[bound] coordinates {(-2048,1.14) (-1500,1.15) (-1000,1.165) (-500,1.17) (700,1.17)};
  \addplot[rhalo] table[x=v,y=r] {\rE};
  \addplot[rdat] table[x=v,y=r] {\rE};
\end{axis}

% ======== CIV 1550 ========
\begin{axis}[spec, at={(68.3pt,-744.7pt)}, anchor=north west]
  \addplot[zero] coordinates {(-3300,0) (700,0)};
  \addplot[one] coordinates {(-3300,1) (700,1)};
  \addplot[vzero] coordinates {(0,-0.1) (0,1.1)};
  \addplot[errs] table[x=v,y=f,y error=e] {\dF};
  \addplot[dat] table[x=v,y=f] {\dF};
  \addplot[model] table[x=v,y=f] {\mF};
  \bluelines \greenleft \greenright
  \addplot[rangebar] coordinates {(-333,0.8) (0,0.8) (118,0.8)};
  \lab{0.025}{CIV 1550}
\end{axis}
\begin{axis}[resid, at={(68.3pt,-726pt)}, anchor=north west]
  \addplot[rmid] coordinates {(-3300,1.224) (700,1.224)};
  \addplot[bound] coordinates {(-2890,1.32) (-2616,1.32)};
  \addplot[bound] coordinates {(-2890,1.12) (-2616,1.12)};
  \addplot[bound] coordinates {(-2548,1.315) (-2000,1.29) (-1500,1.27) (-1000,1.26) (700,1.26)};
  \addplot[bound] coordinates {(-2548,1.125) (-2000,1.14) (-1500,1.16) (-1000,1.168) (700,1.168)};
  \addplot[rhalo] table[x=v,y=r] {\rF};
  \addplot[rdat] table[x=v,y=r] {\rF};
\end{axis}

% ======== FeII 2344 ========
\begin{axis}[spec, at={(68.3pt,-868.5pt)}, anchor=north west, height=120pt,
    ymin=-0.08, ymax=1.12,
    xticklabels={,,-2000,-1500,-1000,-500,0,500}]
  \addplot[zero] coordinates {(-3300,0) (700,0)};
  \addplot[one] coordinates {(-3300,1) (700,1)};
  \addplot[vzero] coordinates {(0,-0.08) (0,1.12)};
  \addplot[errs] table[x=v,y=f,y error=e] {\dG};
  \addplot[dat] table[x=v,y=f] {\dG};
  \addplot[blue, line width=1.3pt] table[x=v,y=f] {\mG};
  \addplot[black!85, line width=1.3pt] coordinates {(-333,0.8) (118,0.8)};
  \node[anchor=base west, font=\fontsize{19.5}{23}\selectfont] at (axis cs:-3183,0.04) {FeII 2344};
\end{axis}

% ======== HI 1215 ========
\begin{axis}[base, at={(68.3pt,-1033.5pt)}, anchor=north west, width=249.6pt, height=101.3pt,
    xmin=-3300, xmax=-2500, ymin=-0.1, ymax=1.1,
    xtick={-3000,-2500}, xticklabels={-3000,-2500}, minor xtick={-3250,-3125,...,-2500},
    ytick={0,0.5,1}, minor ytick={0.1,0.2,0.3,0.4,0.6,0.7,0.8,0.9},
    yticklabel style={/pgf/number format/.cd, fixed, fixed zerofill, precision=1}]
  \addplot[zero] coordinates {(-3300,0) (-2500,0)};
  \addplot[one] coordinates {(-3300,1) (-2500,1)};
  \addplot[halo] table[x=v,y=f] {\dH};
  \addplot[dat] table[x=v,y=f] {\dH};
  \addplot[model] table[x=v,y=f] {\mH};
  \addplot[greenv] coordinates {(-3061,0) (-3061,1.1) (-3061,nan) (-2885,0) (-2885,1.1) (-2885,nan) (-2845,0) (-2845,1.1)};
  \node[anchor=base west, font=\fontsize{19.5}{23}\selectfont] at (axis cs:-3170,0.06) {HI 1215};
\end{axis}

% axis titles
\node[rotate=90, font=\fontsize{19.5}{23}\selectfont] at (15pt,-648pt) {Normalized Flux};
\node[font=\fontsize{19.5}{23}\selectfont] at (693pt,-1032pt) {Rel.\ velocity\ \ (km s\textsuperscript{−1})};
\end{tikzpicture}
\end{document}
